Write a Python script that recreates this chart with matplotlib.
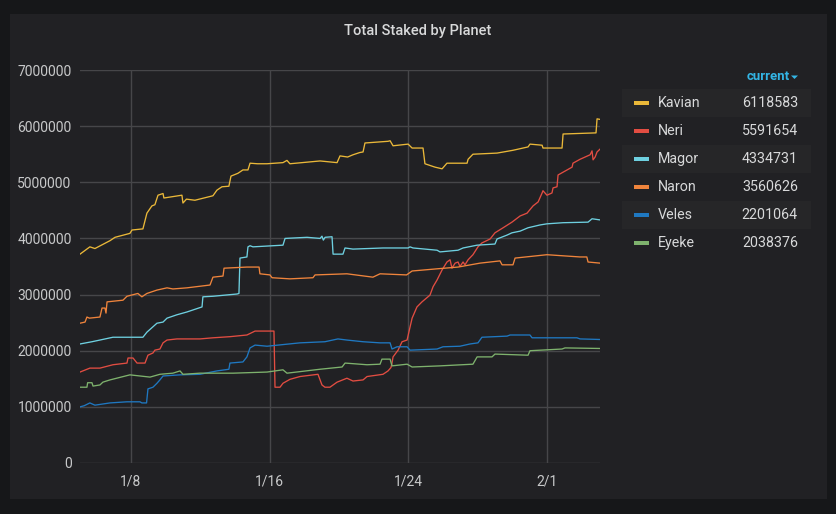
import matplotlib
matplotlib.use("Agg")
import matplotlib.pyplot as plt
from matplotlib.patches import Rectangle, Polygon

# ---------------- data (x = days since Jan 1, values in millions) ----------------
series_names = ["Kavian", "Neri", "Magor", "Naron", "Veles", "Eyeke"]
series_colors = ["#EAB839", "#E24D42", "#6ED0E0", "#EF843C", "#1F78C1", "#7EB26D"]
current_values = ["6118583", "5591654", "4334731", "3560626", "2201064", "2038376"]

kavian_x = [4.06, 4.63, 4.92, 5.79, 6.08, 6.94, 7.06, 7.69, 7.92, 8.21, 8.38, 8.56, 8.85, 8.9,
            9.94, 10.0, 10.2, 10.69, 11.73, 11.96, 12.25, 12.65, 12.77, 13.17, 13.46, 13.75, 13.87,
            14.3, 14.85, 15.77, 16.0, 16.17, 17.91, 18.89, 19.06, 19.5, 19.81, 20.2, 20.39, 20.5,
            21.83, 21.95, 22.12, 22.99, 23.22, 23.85, 23.96, 24.54, 24.95, 25.23, 26.39, 26.45,
            26.73, 28.12, 29.04, 29.91, 30.02, 30.72, 30.77, 31.87, 31.93, 33.83, 33.89, 34.06]
kavian_y = [3.72, 3.85, 3.82, 3.96, 4.02, 4.09, 4.15, 4.17, 4.45, 4.58, 4.60, 4.77, 4.80, 4.72,
            4.77, 4.63, 4.70, 4.68, 4.76, 4.86, 4.92, 4.93, 5.11, 5.16, 5.22, 5.22, 5.34,
            5.33, 5.33, 5.35, 5.39, 5.33, 5.38, 5.35, 5.47, 5.45, 5.49, 5.53, 5.54, 5.70,
            5.73, 5.74, 5.65, 5.68, 5.61, 5.61, 5.33, 5.27, 5.24, 5.34, 5.34, 5.41,
            5.50, 5.52, 5.57, 5.63, 5.68, 5.66, 5.61, 5.61, 5.86, 5.88, 6.13, 6.12]

neri_x = [4.06, 4.63, 5.21, 5.96, 6.77, 6.83, 7.12, 7.35, 7.81, 7.98, 8.27, 8.38, 8.67, 8.85,
          9.08, 9.65, 10.98, 11.73, 12.71, 13.69, 14.16, 15.25, 15.31, 15.6, 15.77, 16.17, 16.75,
          17.79, 18.02, 18.19, 18.48, 18.89, 19.46, 19.81, 20.39, 20.62, 21.54, 21.83, 22.0, 22.06,
          22.12, 22.41, 22.64, 22.93, 23.10, 23.22, 23.50, 23.79, 24.25, 24.43, 24.66, 24.95, 25.23,
          25.41, 25.52, 25.70, 25.87, 25.98, 26.16, 26.27, 26.45, 26.73, 27.02, 27.25, 27.72, 28.0,
          28.47, 28.98, 29.45, 29.85, 30.20, 30.49, 30.72, 30.77, 31.0, 31.29, 31.35, 31.58, 31.64,
          31.93, 32.45, 32.50, 32.91, 33.49, 33.6, 33.66, 33.78, 33.89, 34.06]
neri_y = [1.62, 1.69, 1.69, 1.75, 1.78, 1.87, 1.87, 1.78, 1.78, 1.92, 1.96, 2.01, 2.03, 2.14,
          2.19, 2.21, 2.21, 2.23, 2.25, 2.28, 2.35, 2.35, 1.35, 1.35, 1.42, 1.49, 1.54,
          1.58, 1.39, 1.35, 1.35, 1.44, 1.51, 1.46, 1.48, 1.54, 1.58, 1.64, 1.70, 1.78,
          1.89, 2.01, 2.16, 2.19, 2.42, 2.58, 2.78, 2.87, 2.99, 3.14, 3.26, 3.44, 3.58,
          3.62, 3.47, 3.56, 3.58, 3.50, 3.58, 3.53, 3.62, 3.71, 3.85, 3.92, 3.99, 4.10,
          4.19, 4.29, 4.40, 4.45, 4.58, 4.65, 4.81, 4.85, 4.77, 4.81, 4.90, 4.92, 5.13,
          5.18, 5.27, 5.34, 5.41, 5.49, 5.56, 5.40, 5.45, 5.54, 5.59]

magor_x = [4.06, 4.75, 5.21, 5.96, 7.69, 7.92, 8.50, 8.85, 9.08, 9.65, 10.23, 11.10, 11.15, 11.73,
           13.12, 13.23, 13.29, 13.69, 13.75, 13.87, 14.04, 15.77, 15.89, 17.16, 17.91, 18.02, 18.1,
           18.2, 18.60, 18.66, 19.23, 19.35, 19.81, 21.54, 22.99, 23.10, 23.27, 24.66, 24.83, 25.87,
           26.16, 26.97, 28.0, 28.12, 28.70, 28.98, 29.45, 29.91, 30.60, 31.0, 31.93, 33.37, 33.60, 34.06]
magor_y = [2.12, 2.16, 2.19, 2.24, 2.24, 2.33, 2.49, 2.51, 2.58, 2.64, 2.69, 2.78, 2.96, 2.97,
           3.01, 3.02, 3.65, 3.67, 3.85, 3.87, 3.85, 3.88, 4.00, 4.02, 4.00, 4.04, 3.97,
           4.02, 4.03, 3.72, 3.72, 3.83, 3.81, 3.83, 3.83, 3.85, 3.83, 3.79, 3.76, 3.79,
           3.83, 3.88, 3.90, 3.99, 4.06, 4.10, 4.13, 4.19, 4.24, 4.26, 4.28, 4.29, 4.35, 4.33]

naron_x = [4.06, 4.35, 4.46, 4.6, 5.21, 5.33, 5.5, 5.56, 5.62, 6.54, 6.77, 7.40, 7.63, 7.92, 8.50,
           9.08, 9.42, 10.23, 11.56, 11.73, 12.31, 12.37, 13.69, 14.39, 14.44, 15.02, 15.14, 16.17,
           17.50, 17.62, 19.46, 20.96, 21.37, 22.9, 23.22, 24.71, 25.87, 27.14, 28.29, 28.41, 29.04,
           29.16, 31.0, 32.91, 33.3, 33.37, 34.06]
naron_y = [2.49, 2.51, 2.60, 2.58, 2.60, 2.76, 2.76, 2.67, 2.87, 2.90, 2.97, 3.02, 2.96, 3.02, 3.08,
           3.12, 3.10, 3.12, 3.17, 3.31, 3.33, 3.47, 3.49, 3.49, 3.37, 3.35, 3.30, 3.28,
           3.30, 3.35, 3.37, 3.31, 3.37, 3.35, 3.42, 3.46, 3.49, 3.56, 3.60, 3.53, 3.53,
           3.65, 3.71, 3.67, 3.67, 3.58, 3.56]

veles_x = [4.06, 4.3, 4.63, 4.92, 5.79, 6.77, 7.52, 7.63, 7.9, 7.98, 8.27, 8.50, 8.67, 8.85, 9.83,
           10.98, 11.96, 12.65, 12.71, 13.46, 13.69, 13.87, 14.16, 14.85, 16.75, 18.19, 18.94, 19.46,
           20.39, 21.37, 21.95, 22.06, 22.35, 22.93, 23.10, 24.66, 25.0, 25.98, 26.56, 27.02, 27.25,
           28.70, 28.87, 30.02, 30.14, 32.73, 32.91, 34.06]
veles_y = [1.00, 1.02, 1.07, 1.03, 1.07, 1.09, 1.09, 1.07, 1.07, 1.32, 1.35, 1.42, 1.48, 1.55, 1.57,
           1.58, 1.64, 1.67, 1.78, 1.80, 1.89, 2.05, 2.10, 2.08, 2.14, 2.16, 2.21, 2.19,
           2.16, 2.14, 2.14, 2.03, 2.07, 2.07, 2.01, 2.03, 2.07, 2.08, 2.12, 2.14, 2.24,
           2.26, 2.28, 2.28, 2.23, 2.23, 2.21, 2.20]

eyeke_x = [4.06, 4.46, 4.5, 4.75, 4.81, 5.21, 5.38, 5.79, 6.94, 7.52, 8.10, 8.67, 9.42, 9.83, 10.0,
           10.98, 12.89, 14.85, 15.77, 16.0, 17.91, 19.18, 19.35, 20.62, 21.37, 21.48, 21.95, 22.06,
           22.93, 23.22, 24.83, 26.73, 26.97, 27.83, 28.0, 29.91, 30.02, 31.87, 32.04, 34.06]
eyeke_y = [1.35, 1.35, 1.43, 1.43, 1.37, 1.39, 1.44, 1.48, 1.57, 1.55, 1.53, 1.58, 1.60, 1.64, 1.58,
           1.60, 1.60, 1.62, 1.66, 1.60, 1.67, 1.71, 1.78, 1.75, 1.76, 1.85, 1.85, 1.73,
           1.76, 1.71, 1.73, 1.76, 1.89, 1.89, 1.94, 1.92, 2.00, 2.03, 2.05, 2.04]

xtick_days = [7, 15, 23, 31]
xtick_labels = ["1/8", "1/16", "1/24", "2/1"]
ytick_values = [0, 1000000, 2000000, 3000000, 4000000, 5000000, 6000000, 7000000]
title_text = "Total Staked by Planet"
legend_header = "current"

series_x = [kavian_x, neri_x, magor_x, naron_x, veles_x, eyeke_x]
series_y = [kavian_y, neri_y, magor_y, naron_y, veles_y, eyeke_y]

# ---------------- figure ----------------
plt.rcParams["font.family"] = ["Roboto", "DejaVu Sans"]
W, H = 837, 514
fig = plt.figure(figsize=(W / 100, H / 100), dpi=100, facecolor="#161719")


def fx(px):
    return px / W


def fy(py):
    return 1 - py / H


fig.patches.append(Rectangle((fx(10), fy(499)), fx(827) - fx(10), fy(14) - fy(499),
                             transform=fig.transFigure, facecolor="#212124",
                             edgecolor="none", zorder=-3))

ax = fig.add_axes([fx(80), fy(463), (600 - 80) / W, (463 - 70) / H])
ax.set_facecolor("none")
ax.set_zorder(2)

for xs, ys, c in zip(series_x, series_y, series_colors):
    ax.plot(xs, [v * 1e6 for v in ys], color=c, lw=0.95, zorder=3)

ax.set_xlim(4.06, 34.06)
ax.set_ylim(0, 7000000)
ax.set_xticks(xtick_days)
ax.set_xticklabels(xtick_labels)
ax.set_yticks(ytick_values)
ax.set_yticklabels([str(v) for v in ytick_values])
ax.grid(True, color="#464649", lw=1.0, zorder=1)
ax.set_axisbelow(True)
for s in ax.spines.values():
    s.set_visible(False)
ax.tick_params(axis="both", length=0, colors="#c8c9ca", labelsize=10)
ax.tick_params(axis="x", pad=8)
ax.tick_params(axis="y", pad=6)

fig.text(fx(418), fy(31), title_text, ha="center", va="center", color="#d8d9da",
         fontsize=10.5, fontweight="medium")

# ---------------- legend table ----------------
fig.text(fx(790), fy(77), legend_header, ha="right", va="center", color="#33b5e5",
         fontsize=9.5, fontweight="bold")
fig.patches.append(Polygon([[fx(791), fy(75.5)], [fx(798), fy(75.5)], [fx(794.5), fy(79)]],
                           closed=True, transform=fig.transFigure, facecolor="#33b5e5",
                           edgecolor="none"))
for i, (name, c, val) in enumerate(zip(series_names, series_colors, current_values)):
    yc = 103 + 28 * i
    if i % 2 == 0:
        fig.patches.append(Rectangle((fx(622), fy(yc + 14)), fx(811) - fx(622), 28 / H,
                                     transform=fig.transFigure, facecolor="#262628",
                                     edgecolor="none", zorder=-2))
    fig.patches.append(Rectangle((fx(634), fy(yc + 2)), fx(649) - fx(634), 4 / H,
                                 transform=fig.transFigure, facecolor=c, edgecolor="none"))
    fig.text(fx(658), fy(yc), name, ha="left", va="center", color="#d8d9da", fontsize=10.3)
    fig.text(fx(798), fy(yc), val, ha="right", va="center", color="#d8d9da", fontsize=10.3)

fig.savefig("out.png", dpi=100, facecolor=fig.get_facecolor())
